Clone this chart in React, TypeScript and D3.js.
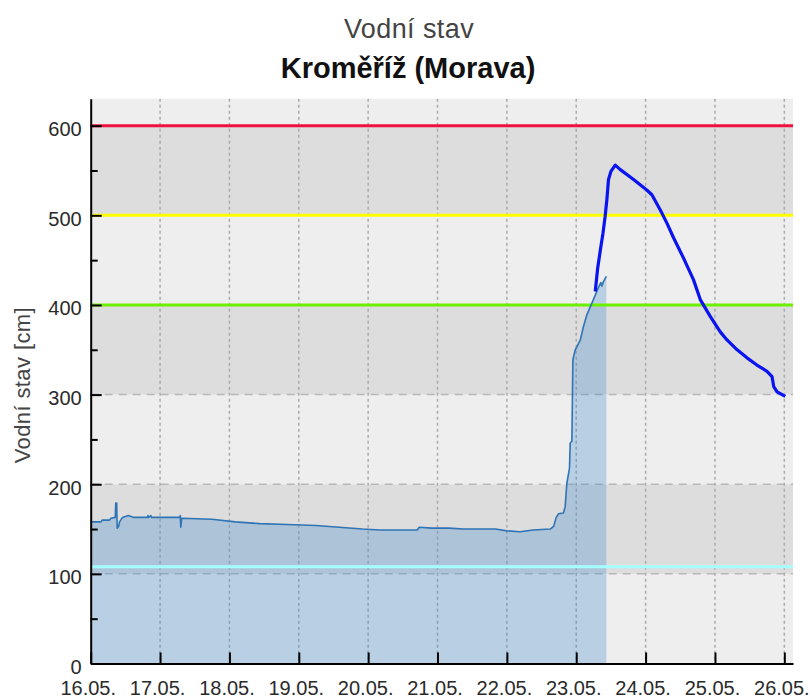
import React, { useEffect, useRef } from 'react';
import * as d3 from 'd3';

// measured water level (cm), Kroměříž, May 2010
const measuredTimes = [
  '2010-05-16 00:00', '2010-05-16 03:30', '2010-05-16 04:00', '2010-05-16 06:30', '2010-05-16 07:00',
  '2010-05-16 08:30', '2010-05-16 08:40', '2010-05-16 09:00', '2010-05-16 09:10', '2010-05-16 09:40',
  '2010-05-16 10:00', '2010-05-16 11:00', '2010-05-16 13:00', '2010-05-16 15:00', '2010-05-16 19:40',
  '2010-05-16 19:50', '2010-05-16 20:00', '2010-05-16 20:50', '2010-05-16 21:00', '2010-05-17 06:50',
  '2010-05-17 07:00', '2010-05-17 07:10', '2010-05-17 07:30', '2010-05-17 18:00', '2010-05-18 02:00',
  '2010-05-18 10:30', '2010-05-18 20:00', '2010-05-19 06:00', '2010-05-19 14:00', '2010-05-19 22:00',
  '2010-05-20 04:00', '2010-05-20 17:00', '2010-05-20 17:40', '2010-05-20 22:00', '2010-05-21 04:00',
  '2010-05-21 09:00', '2010-05-21 14:00', '2010-05-21 20:00', '2010-05-22 00:00', '2010-05-22 04:30',
  '2010-05-22 09:10', '2010-05-22 15:00', '2010-05-22 16:10', '2010-05-22 17:05', '2010-05-22 17:50',
  '2010-05-22 19:35', '2010-05-22 20:10', '2010-05-22 20:45', '2010-05-22 21:40', '2010-05-22 21:55',
  '2010-05-22 22:30', '2010-05-22 22:50', '2010-05-22 23:40', '2010-05-23 01:25', '2010-05-23 02:30',
  '2010-05-23 03:40', '2010-05-23 05:25', '2010-05-23 06:35', '2010-05-23 07:45', '2010-05-23 08:30',
  '2010-05-23 08:50', '2010-05-23 09:25', '2010-05-23 10:25',
];
const measuredLevels = [
  158, 158, 160, 160, 162,
  163, 179, 179, 151, 153,
  158, 163, 165, 163, 163,
  165, 163, 165, 163, 163,
  165, 152, 162, 161, 158,
  156, 155, 154, 152, 150,
  149, 149, 152, 151, 151,
  150, 150, 150, 148, 147,
  149, 150, 153, 163, 167,
  168, 175, 201, 218, 246,
  248, 339, 350, 361, 376,
  389, 402, 411, 420, 425,
  421, 426, 432,
];

// forecast water level (cm)
const forecastTimes = [
  '2010-05-23 06:35', '2010-05-23 07:25', '2010-05-23 08:20', '2010-05-23 09:15', '2010-05-23 10:00',
  '2010-05-23 10:35', '2010-05-23 11:10', '2010-05-23 12:00', '2010-05-23 13:30', '2010-05-23 15:15',
  '2010-05-23 19:50', '2010-05-24 00:30', '2010-05-24 02:10', '2010-05-24 05:05', '2010-05-24 07:25',
  '2010-05-24 09:40', '2010-05-24 13:10', '2010-05-24 16:35', '2010-05-24 18:55', '2010-05-24 22:25',
  '2010-05-25 01:50', '2010-05-25 04:10', '2010-05-25 07:40', '2010-05-25 11:05', '2010-05-25 14:30',
  '2010-05-25 18:00', '2010-05-25 19:45', '2010-05-25 20:20', '2010-05-25 21:30', '2010-05-26 00:20',
];
const forecastLevels = [
  415, 441, 461, 480, 499,
  517, 540, 549, 556, 551,
  540, 528, 523, 506, 491,
  475, 452, 428, 406, 387,
  370, 361, 350, 341, 333,
  326, 320, 309, 303, 298,
];

const dayTicks = ['2010-05-16', '2010-05-17', '2010-05-18', '2010-05-19', '2010-05-20', '2010-05-21',
  '2010-05-22', '2010-05-23', '2010-05-24', '2010-05-25', '2010-05-26'];
const levelTicks = [0, 100, 200, 300, 400, 500, 600];
const minorTicks = [50, 150, 250, 350, 450, 550];
const bandEdges = [0, 100, 200, 300, 400, 500, 600, 630];

// flood levels: 3rd, 2nd, 1st degree and drought limit
const limitLevels = [600, 500, 400, 108];
const limitColors = ['#f0123e', '#ffff00', '#6cf000', '#a6ffff'];

const font = "'Liberation Sans', Arial, sans-serif";

const App: React.FC = () => {
  const svgRef = useRef<SVGSVGElement>(null);

  useEffect(() => {
    if (!svgRef.current) return;
    const svg = d3.select(svgRef.current);
    svg.selectAll('*').remove();

    const margin = { top: 98.8, right: 17, bottom: 36.5, left: 90.7 };
    const width = 810;
    const height = 700;

    const parseTime = d3.timeParse('%Y-%m-%d %H:%M');
    const parseDay = d3.timeParse('%Y-%m-%d');

    const x = d3
      .scaleTime()
      .domain([parseTime('2010-05-16 00:00') as Date, parseTime('2010-05-26 03:00') as Date])
      .range([margin.left, width - margin.right]);

    const y = d3
      .scaleLinear()
      .domain([0, 630])
      .range([height - margin.bottom, margin.top]);

    const measured = measuredTimes.map((t, i) => ({ time: parseTime(t) as Date, level: measuredLevels[i] }));
    const forecast = forecastTimes.map((t, i) => ({ time: parseTime(t) as Date, level: forecastLevels[i] }));
    const days = dayTicks.map(d => parseDay(d) as Date);

    // alternating background bands
    svg.selectAll('.band')
      .data(d3.pairs(bandEdges))
      .enter()
      .append('rect')
      .attr('class', 'band')
      .attr('x', margin.left)
      .attr('width', width - margin.right - margin.left)
      .attr('y', d => y(d[1]))
      .attr('height', d => y(d[0]) - y(d[1]))
      .attr('fill', (d, i) => (i % 2 === 0 ? '#eeeeee' : '#dddddd'));

    // horizontal dashed grid
    svg.selectAll('.y-grid')
      .data(levelTicks.slice(1))
      .enter()
      .append('line')
      .attr('x1', margin.left)
      .attr('x2', width - margin.right)
      .attr('y1', d => y(d))
      .attr('y2', d => y(d))
      .attr('stroke', '#b8b8b8')
      .attr('stroke-width', 1.5)
      .attr('stroke-dasharray', '8,6');

    // vertical dotted grid
    svg.selectAll('.x-grid')
      .data(days.slice(1))
      .enter()
      .append('line')
      .attr('x1', d => x(d))
      .attr('x2', d => x(d))
      .attr('y1', margin.top)
      .attr('y2', height - margin.bottom)
      .attr('stroke', '#ababab')
      .attr('stroke-width', 1.5)
      .attr('stroke-dasharray', '3,3');

    // area under measured levels
    const area = d3
      .area<{ time: Date; level: number }>()
      .x(d => x(d.time))
      .y0(y(0))
      .y1(d => y(d.level));

    svg.append('path')
      .datum(measured)
      .attr('d', area)
      .attr('fill', 'rgb(60,135,205)')
      .attr('fill-opacity', 0.3);

    // flood limit lines
    svg.selectAll('.limit')
      .data(limitLevels)
      .enter()
      .append('line')
      .attr('x1', margin.left)
      .attr('x2', width - margin.right)
      .attr('y1', d => y(d))
      .attr('y2', d => y(d))
      .attr('stroke', (d, i) => limitColors[i])
      .attr('stroke-width', 3);

    const line = d3
      .line<{ time: Date; level: number }>()
      .x(d => x(d.time))
      .y(d => y(d.level));

    svg.append('path')
      .datum(measured)
      .attr('d', line)
      .attr('fill', 'none')
      .attr('stroke', '#2f74b5')
      .attr('stroke-width', 1.6)
      .attr('stroke-linejoin', 'round');

    svg.append('path')
      .datum(forecast)
      .attr('d', line)
      .attr('fill', 'none')
      .attr('stroke', '#0a14f0')
      .attr('stroke-width', 3.2)
      .attr('stroke-linejoin', 'round');

    // axes
    const yAxis = svg.append('g')
      .attr('transform', `translate(${margin.left},0)`)
      .call(d3.axisLeft(y).tickValues(levelTicks).tickSizeInner(-11).tickSizeOuter(0).tickPadding(9).tickFormat(d3.format('d')));
    svg.append('g')
      .attr('transform', `translate(${margin.left},0)`)
      .call(d3.axisLeft(y).tickValues(minorTicks).tickSizeInner(-7).tickSizeOuter(0).tickFormat(() => ''))
      .call(g => g.select('.domain').remove());

    const xAxis = svg.append('g')
      .attr('transform', `translate(0,${height - margin.bottom})`)
      .call(d3.axisBottom(x).tickValues(days).tickSizeInner(-11).tickSizeOuter(0).tickPadding(17).tickFormat(d3.timeFormat('%d.%m.') as any));

    [yAxis, xAxis].forEach(g => {
      g.select('.domain').attr('stroke', '#000').attr('stroke-width', 2);
      g.selectAll('.tick text')
        .attr('font-family', font)
        .attr('font-size', 20)
        .attr('fill', '#2a2a2a');
    });
    svg.selectAll('.tick line').attr('stroke', '#000').attr('stroke-width', 2);
    yAxis.selectAll('.tick text').attr('dy', '0.5em');
    xAxis.selectAll('.tick text').attr('dx', -3);

    // titles
    svg.append('text')
      .attr('x', 409)
      .attr('y', 38)
      .attr('text-anchor', 'middle')
      .attr('font-family', font)
      .attr('font-size', 27)
      .attr('letter-spacing', 0.4)
      .attr('fill', '#444')
      .text('Vodní stav');

    svg.append('text')
      .attr('x', 408)
      .attr('y', 78)
      .attr('text-anchor', 'middle')
      .attr('font-family', font)
      .attr('font-size', 29)
      .attr('font-weight', 'bold')
      .attr('fill', '#111')
      .text('Kroměříž (Morava)');

    svg.append('text')
      .attr('transform', `translate(30,${(margin.top + height - margin.bottom) / 2 + 4}) rotate(-90)`)
      .attr('text-anchor', 'middle')
      .attr('font-family', font)
      .attr('font-size', 22)
      .attr('letter-spacing', 0.4)
      .attr('fill', '#444')
      .text('Vodní stav [cm]');
  }, []);

  return (
    <svg ref={svgRef} width={810} height={700} style={{ position: 'absolute', left: 0, top: 0, background: '#fff' }} />
  );
};

export default App;
